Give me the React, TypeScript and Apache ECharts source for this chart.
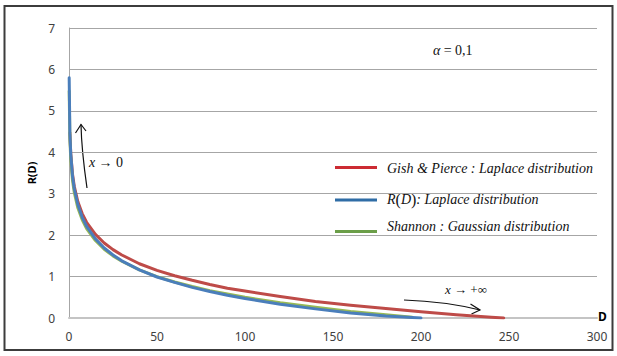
import React, { useEffect, useRef } from "react";
import * as echarts from "echarts";

// Distortion values (D) and rate values R(D)
const dGishPierce = [0.5, 1, 2, 3, 5, 7.5, 10, 15, 20, 25, 30, 40, 50, 60, 70, 80, 90, 100, 120, 140, 160, 180, 200, 220, 240, 247];
const rGishPierce = [4.47, 3.97, 3.47, 3.18, 2.81, 2.52, 2.31, 2.02, 1.81, 1.65, 1.52, 1.31, 1.15, 1.02, 0.91, 0.81, 0.72, 0.65, 0.52, 0.4, 0.31, 0.23, 0.15, 0.08, 0.02, 0];

const dShannon = [0.1, 0.5, 1, 2, 3, 5, 7.5, 10, 15, 20, 25, 30, 40, 50, 60, 70, 80, 90, 100, 120, 140, 160, 180, 195];
const rShannon = [5.48, 4.32, 3.82, 3.32, 3.03, 2.66, 2.37, 2.16, 1.87, 1.66, 1.5, 1.37, 1.16, 1.0, 0.87, 0.76, 0.66, 0.58, 0.5, 0.37, 0.26, 0.16, 0.08, 0.02];

const dLaplace = [0.1, 0.5, 1, 2, 3, 5, 7.5, 10, 15, 20, 25, 30, 40, 50, 60, 70, 80, 90, 100, 120, 140, 160, 180, 200];
const rLaplace = [5.8, 4.45, 3.95, 3.42, 3.12, 2.74, 2.43, 2.21, 1.91, 1.69, 1.52, 1.38, 1.16, 0.99, 0.86, 0.74, 0.64, 0.55, 0.47, 0.33, 0.22, 0.12, 0.05, 0];

const xTicks = [0, 50, 100, 150, 200, 250, 300];
const yTicks = [0, 1, 2, 3, 4, 5, 6, 7];

const seriesNames = [
  "Gish & Pierce : Laplace distribution",
  "R(D): Laplace distribution",
  "Shannon : Gaussian distribution",
];

const RED = "#be4b48";
const BLUE = "#4a7ebb";
const GREEN = "#98b954";
const SERIF = "'Liberation Serif', 'DejaVu Serif', serif";

const pairs = (xs: number[], ys: number[]) => xs.map((x, i) => [x, ys[i]]);

export default function App() {
  const ref = useRef<HTMLDivElement>(null);
  useEffect(() => {
    const chart = echarts.init(ref.current!, null, { renderer: "svg" });
    const legendX = 335;
    const legendTextX = 387;
    const lineSeries = (name: string, data: number[][], color: string) => ({
      name,
      type: "line",
      data,
      showSymbol: false,
      smooth: false,
      lineStyle: { color, width: 3, cap: "round", join: "round" },
      itemStyle: { color },
    });
    chart.setOption({
      animation: false,
      backgroundColor: "#ffffff",
      grid: { left: 69, right: 20, top: 28, bottom: 38 },
      xAxis: {
        type: "value",
        min: xTicks[0],
        max: xTicks[xTicks.length - 1],
        interval: 50,
        name: "D",
        nameLocation: "end",
        nameGap: 1,
        nameTextStyle: { fontFamily: "'Noto Sans', sans-serif", fontWeight: "bold", fontSize: 12, color: "#000", verticalAlign: "bottom", padding: [0, 0, -4, 0] },
        axisLine: { show: true, lineStyle: { color: "#c4c4c4", width: 2 } },
        axisTick: { show: false },
        splitLine: { show: false },
        axisLabel: { color: "#404040", fontSize: 12, fontFamily: "'Noto Sans', sans-serif", margin: 12 },
      },
      yAxis: {
        type: "value",
        min: yTicks[0],
        max: yTicks[yTicks.length - 1],
        interval: 1,
        name: "R(D)",
        nameLocation: "middle",
        nameRotate: 90,
        nameGap: 24,
        nameTextStyle: { fontFamily: "'Noto Sans', sans-serif", fontWeight: "bold", fontSize: 11, color: "#000" },
        axisLine: { show: true, lineStyle: { color: "#a6a6a6", width: 1 } },
        axisTick: { show: false },
        splitLine: { show: true, lineStyle: { color: "#a6a6a6", width: 1 } },
        axisLabel: { color: "#404040", fontSize: 12, fontFamily: "'Noto Sans', sans-serif", margin: 14 },
      },
      series: [
        lineSeries(seriesNames[0], pairs(dGishPierce, rGishPierce), RED),
        lineSeries(seriesNames[2], pairs(dShannon, rShannon), GREEN),
        lineSeries(seriesNames[1], pairs(dLaplace, rLaplace), BLUE),
      ],
      graphic: [
        // outer frame
        {
          type: "rect",
          shape: { x: 4.5, y: 6, width: 608, height: 344 },
          style: { fill: "none", stroke: "#3c3c3c", lineWidth: 2 },
          silent: true,
        },
        // alpha label
        {
          type: "text",
          x: 433,
          y: 50,
          style: {
            text: "{i|α} {n|= 0,1}",
            verticalAlign: "middle",
            rich: {
              i: { fontFamily: SERIF, fontStyle: "italic", fontSize: 14, fill: "#111" },
              n: { fontFamily: SERIF, fontSize: 14, fill: "#111" },
            },
          },
        },
        // legend lines
        { type: "line", shape: { x1: legendX, y1: 167.5, x2: legendX + 42, y2: 167.5 }, style: { stroke: "#cc2b33", lineWidth: 3 } },
        { type: "line", shape: { x1: legendX, y1: 200, x2: legendX + 42, y2: 200 }, style: { stroke: "#2f6da6", lineWidth: 3 } },
        { type: "line", shape: { x1: legendX, y1: 231.5, x2: legendX + 42, y2: 231.5 }, style: { stroke: "#6b9e48", lineWidth: 3 } },
        // legend texts
        {
          type: "text",
          x: legendTextX,
          y: 168,
          style: {
            text: seriesNames[0],
            verticalAlign: "middle",
            fontFamily: SERIF,
            fontStyle: "italic",
            fontSize: 14,
            fill: "#111",
          },
        },
        {
          type: "text",
          x: legendTextX,
          y: 199,
          style: {
            text: "{i|R}{p|(}{i|D}{p|)}{i|: Laplace distribution}",
            verticalAlign: "middle",
            rich: {
              i: { fontFamily: SERIF, fontStyle: "italic", fontSize: 14, fill: "#111" },
              p: { fontFamily: SERIF, fontSize: 16, fill: "#111" },
            },
          },
        },
        {
          type: "text",
          x: legendTextX,
          y: 226,
          style: {
            text: seriesNames[2],
            verticalAlign: "middle",
            fontFamily: SERIF,
            fontStyle: "italic",
            fontSize: 14,
            fill: "#111",
          },
        },
        // x -> 0 arrow
        {
          type: "bezierCurve",
          shape: { x1: 87, y1: 188, x2: 81, y2: 124.5, cpx1: 81.5, cpy1: 150 },
          style: { stroke: "#111", lineWidth: 1.2, fill: "none" },
        },
        {
          type: "polyline",
          shape: { points: [[75.5, 133], [81, 124.5], [86, 131]] },
          style: { stroke: "#111", lineWidth: 1.2, fill: "none" },
        },
        {
          type: "text",
          x: 89,
          y: 162,
          style: {
            text: "{i|x} {n|→ 0}",
            verticalAlign: "middle",
            rich: {
              i: { fontFamily: SERIF, fontStyle: "italic", fontSize: 14, fill: "#111" },
              n: { fontFamily: SERIF, fontSize: 14, fill: "#111" },
            },
          },
        },
        // x -> +inf arrow
        {
          type: "bezierCurve",
          shape: { x1: 404, y1: 300, x2: 480, y2: 310, cpx1: 446, cpy1: 301.5 },
          style: { stroke: "#111", lineWidth: 1.2, fill: "none" },
        },
        {
          type: "polyline",
          shape: { points: [[470.5, 304], [480, 310], [471.5, 314]] },
          style: { stroke: "#111", lineWidth: 1.2, fill: "none" },
        },
        {
          type: "text",
          x: 445,
          y: 289,
          style: {
            text: "{i|x} {n|→ +∞}",
            verticalAlign: "middle",
            rich: {
              i: { fontFamily: SERIF, fontStyle: "italic", fontSize: 13, fill: "#111" },
              n: { fontFamily: SERIF, fontSize: 13, fill: "#111" },
            },
          },
        },
      ],
    });
    return () => chart.dispose();
  }, []);
  return (
    <div
      ref={ref}
      style={{ position: "fixed", left: 0, top: 0, width: 617, height: 356, background: "#fff" }}
    />
  );
}
